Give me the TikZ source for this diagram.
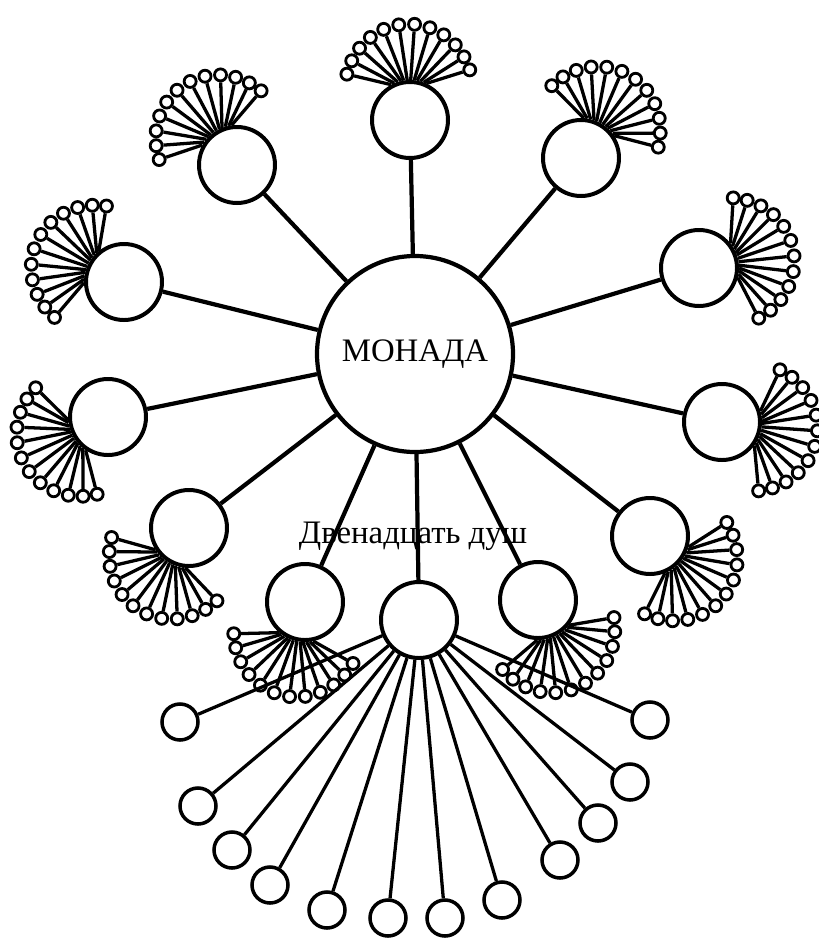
\documentclass[tikz,border=0pt]{standalone}
\usepackage{fontspec}
\setmainfont{Liberation Serif}
\usetikzlibrary{calc}
\begin{document}
\begin{tikzpicture}[x=0.03cm, y=0.03cm,
    monadbox/.style={circle, draw, line width=3.6pt, minimum size=5.88cm,
      inner sep=0pt, font=\fontsize{28}{30}\selectfont},
    soul/.style={circle, draw, line width=3.4pt, minimum size=2.28cm, inner sep=0pt},
    seed/.style={circle, draw, line width=2.4pt, minimum size=0.36cm, inner sep=0pt},
    bud/.style={circle, draw, line width=3pt, minimum size=1.08cm, inner sep=0pt},
    ray/.style={line width=3.6pt},
    hair/.style={line width=2.8pt}
  ]
  \useasboundingbox (0,0) rectangle (819,-946);

  % the monad in the middle
  \node[monadbox] (monad) at (415,-354) {МОНАДА};
  \node[font=\fontsize{28}{30}\selectfont] (souls) at (413,-536) {Двенадцать душ};

  % eleven souls with their fans: name/x/y/fan direction
  \foreach \n/\x/\y/\o in {s1/410/120/92, s2/237/165/124, s3/581/158/60,
      s4/124/282/155, s5/699/268/12, s6/108/417/210, s7/722/422/-10,
      s8/189/528/239, s9/650/536/-42, s10/305/602/256, s11/538/600/-65} {
    \node[soul] (\n) at (\x,-\y) {};
    \draw[ray] (monad) -- (\n);
    \foreach \k in {0,...,11} {
      \pgfmathsetmacro{\t}{-52+\k*104/11}
      \pgfmathsetmacro{\R}{78+18*cos(\t*90/52)}
      \pgfmathsetmacro{\s}{\o+0.5*\t}
      \node[seed] (\n-\k) at ($(\n)+(\o+\t:\R)$) {};
      \draw[hair] (\n.\s) -- (\n-\k);
    }
  }

  % the twelfth soul and its buds
  \node[soul] (s12) at (419,-620) {};
  \draw[ray] (monad) -- (s12);
  \foreach \k/\x/\y in {1/180/722, 2/198/806, 3/232/850, 4/270/885,
      5/327/910, 6/388/918, 7/445/918, 8/502/900, 9/560/860,
      10/598/823, 11/630/782, 12/650/720} {
    \node[bud] (u\k) at (\x,-\y) {};
    \draw[hair] (s12) -- (u\k);
  }
\end{tikzpicture}
\end{document}
